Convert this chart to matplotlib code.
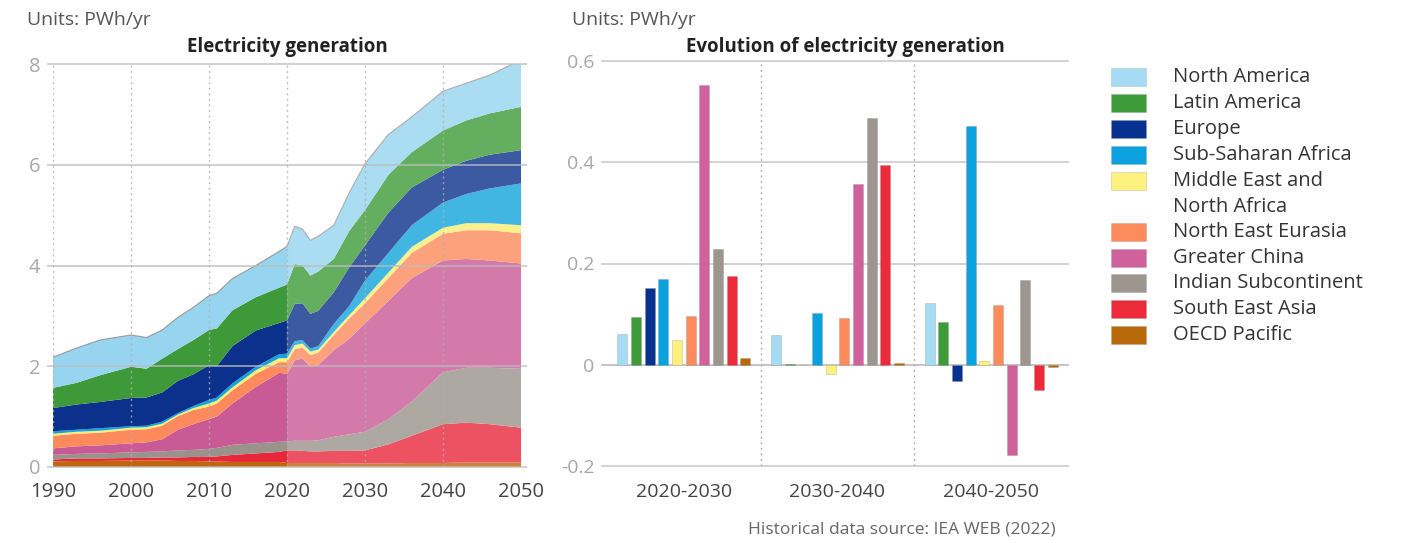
import matplotlib
matplotlib.use("Agg")
import matplotlib.pyplot as plt
from matplotlib.patches import Rectangle
import numpy as np

plt.rcParams['font.family'] = ['Open Sans', 'DejaVu Sans']
plt.rcParams['axes.unicode_minus'] = False

# ---------------- data ----------------
years = [1990, 1993, 1996, 2000, 2002, 2004, 2006, 2008, 2010, 2011, 2013, 2016, 2019,
         2020, 2021, 2022, 2023, 2024, 2026, 2028, 2030, 2033, 2036, 2040, 2043, 2046, 2050]

oecd_pacific = [.11, .12, .12, .13, .13, .13, .12, .12, .11, .11, .10, .10, .10,
                .08, .08, .08, .08, .08, .08, .07, .07, .07, .08, .08, .09, .09, .09]
south_east_asia = [.04, .05, .05, .05, .05, .06, .07, .08, .09, .10, .14, .17, .20,
                   .25, .25, .24, .23, .23, .24, .25, .26, .38, .54, .77, .79, .76, .69]
indian_sub = [.09, .09, .10, .11, .12, .12, .14, .14, .16, .17, .20, .20, .20,
              .18, .19, .20, .21, .22, .28, .33, .37, .50, .68, 1.03, 1.09, 1.12, 1.17]
greater_china = [.13, .15, .16, .18, .19, .24, .41, .51, .59, .62, .82, 1.12, 1.37,
                 1.34, 1.60, 1.63, 1.47, 1.49, 1.72, 1.90, 2.15, 2.35, 2.45, 2.22, 2.16, 2.13, 2.09]
ne_eurasia = [.25, .25, .25, .27, .26, .27, .27, .28, .25, .26, .26, .26, .21,
              .23, .22, .22, .23, .25, .30, .40, .40, .45, .50, .53, .57, .60, .60]
mena = [.04, .04, .04, .04, .04, .04, .03, .04, .06, .06, .06, .07, .08,
        .08, .08, .08, .07, .06, .06, .07, .10, .11, .12, .12, .14, .14, .16]
ss_africa = [.05, .04, .05, .03, .03, .04, .03, .04, .07, .06, .08, .07, .08,
             .09, .08, .07, .06, .07, .16, .18, .35, .39, .43, .50, .58, .69, .83]
europe = [.46, .50, .52, .56, .56, .58, .64, .63, .69, .62, .74, .72, .62,
          .66, .74, .73, .69, .70, .63, .77, .70, .80, .75, .65, .66, .67, .66]
latin_america = [.40, .43, .53, .62, .57, .67, .63, .68, .70, .75, .71, .66, .70,
                 .71, .79, .75, .76, .78, .66, .72, .70, .75, .70, .78, .80, .82, .86]
north_america = [.61, .69, .70, .63, .62, .57, .63, .65, .68, .70, .63, .63, .72,
                 .76, .75, .72, .70, .70, .67, .76, .92, .80, .70, .78, .74, .76, .93]

regions = ["North America", "Latin America", "Europe", "Sub-Saharan Africa",
           "Middle East and\nNorth Africa", "North East Eurasia", "Greater China",
           "Indian Subcontinent", "South East Asia", "OECD Pacific"]
periods = ["2020-2030", "2030-2040", "2040-2050"]
# evolution per region: [2020-2030, 2030-2040, 2040-2050]
evo_north_america = [0.060, 0.059, 0.121]
evo_latin_america = [0.095, 0.002, 0.085]
evo_europe = [0.151, 0.000, -0.033]
evo_ss_africa = [0.170, 0.103, 0.472]
evo_mena = [0.049, -0.018, 0.008]
evo_ne_eurasia = [0.096, 0.092, 0.118]
evo_greater_china = [0.552, 0.357, -0.179]
evo_indian_sub = [0.228, 0.488, 0.167]
evo_south_east_asia = [0.175, 0.395, -0.049]
evo_oecd_pacific = [0.014, 0.004, -0.005]

bar_colors = ["#a6dcf3", "#3d9b3a", "#07318f", "#0ba1de", "#fdf07c",
              "#fe8b5b", "#d0619d", "#9d968e", "#ec2a3a", "#b8690a"]
area_colors = ["#96d4ef", "#3e9a38", "#0b318c", "#14a4dd", "#fbee70",
               "#fd8a5d", "#c95a95", "#9a938b", "#e8283a", "#c0650b"]

# ---------------- figure ----------------
W, H = 1406, 543
fig = plt.figure(figsize=(W / 100, H / 100), dpi=100)


def fx(x):
    return x / W


def fy(y):
    return 1 - y / H


grid_c = "#cfcfcf"
tick_c = "#a8a8a8"
lab_c = "#444444"

# ---------- left: stacked area ----------
axL = fig.add_axes([fx(53), fy(467), fx(521) - fx(53), fy(64) - fy(467)])
stack_bottom_up = [oecd_pacific, south_east_asia, indian_sub, greater_china, ne_eurasia,
                   mena, ss_africa, europe, latin_america, north_america]
cols_bottom_up = area_colors[::-1]
axL.stackplot(years, *stack_bottom_up, colors=cols_bottom_up, linewidth=0, zorder=2)
total = np.sum(np.array(stack_bottom_up), axis=0)
axL.plot(years, total, color="#9a9a9a", lw=0.8, zorder=3)
axL.axvspan(2020, 2050, color="white", alpha=0.2, lw=0, zorder=4)
axL.set_xlim(1990, 2050)
axL.set_ylim(0, 8)
for v in [0, 2, 4, 6, 8]:
    axL.axhline(v, color="#bdbdbd", lw=1.4, alpha=0.7, zorder=5, xmin=-0.01, xmax=1.01, clip_on=False)
for yr in [1990, 2000, 2010, 2020, 2030, 2040]:
    axL.axvline(yr, color="#b0b0b0", lw=1.0, ls=(0, (1.5, 2.5)), alpha=0.8, zorder=5)
for s in axL.spines.values():
    s.set_visible(False)
axL.set_xticks([1990, 2000, 2010, 2020, 2030, 2040, 2050])
axL.set_yticks([0, 2, 4, 6, 8])
axL.tick_params(axis="x", length=0, pad=11, labelsize=14.5, labelcolor=lab_c)
axL.tick_params(axis="y", length=0, pad=9, labelsize=14.5, labelcolor=tick_c)
axL.set_facecolor("white")

fig.text(fx(27), fy(20), "Units: PWh/yr", fontsize=14, color="#555555", va="center", ha="left")
fig.text(fx(287), fy(47), "Electricity generation", fontsize=13.5, color="#222222",
         fontweight="bold", va="center", ha="center")

# ---------- right: grouped bars ----------
axR = fig.add_axes([fx(607), fy(466), fx(1068) - fx(607), fy(61) - fy(466)])
evo_series = [evo_north_america, evo_latin_america, evo_europe, evo_ss_africa, evo_mena,
              evo_ne_eurasia, evo_greater_china, evo_indian_sub, evo_south_east_asia,
              evo_oecd_pacific]
x = np.arange(len(periods))
pitch = 0.089
bw = 0.066
for v in [-0.2, 0, 0.2, 0.4, 0.6]:
    axR.axhline(v, color=grid_c if v != 0 else "#c0c0c0", lw=1.3, zorder=0,
                xmin=-0.01, xmax=1.0, clip_on=False)
for sep in [0.5, 1.5]:
    axR.axvline(sep, color="#b0b0b0", lw=1.0, ls=(0, (1.5, 2.5)), zorder=0)
for i, (vals, c) in enumerate(zip(evo_series, bar_colors)):
    axR.bar(x + (i - 4.5) * pitch, vals, width=bw, color=c,
            edgecolor=(0.55, 0.55, 0.55, 0.35), linewidth=0.6, zorder=2)
axR.set_xlim(-0.5, 2.5)
axR.set_ylim(-0.2, 0.6)
for s in axR.spines.values():
    s.set_visible(False)
axR.set_xticks(x)
axR.set_xticklabels(periods)
axR.set_yticks([-0.2, 0, 0.2, 0.4, 0.6])
axR.set_yticklabels(["-0.2", "0", "0.2", "0.4", "0.6"])
axR.tick_params(axis="x", length=0, pad=12, labelsize=14, labelcolor=lab_c)
axR.tick_params(axis="y", length=0, pad=9, labelsize=14, labelcolor=tick_c)

fig.text(fx(572), fy(20), "Units: PWh/yr", fontsize=14, color="#555555", va="center", ha="left")
fig.text(fx(845), fy(47), "Evolution of electricity generation", fontsize=13.5,
         color="#222222", fontweight="bold", va="center", ha="center")
fig.text(fx(1056), fy(530), "Historical data source: IEA WEB (2022)", fontsize=12.5,
         color="#666666", va="center", ha="right")

# ---------- legend ----------
leg_y = [77, 103, 129, 155, 181, 232, 258, 283, 309, 335]
for name, c, yc in zip(regions, bar_colors, leg_y):
    fig.add_artist(Rectangle((fx(1111), fy(yc + 9)), fx(35), 18 / H, transform=fig.transFigure,
                             facecolor=c, edgecolor=(0.6, 0.6, 0.6, 0.35), linewidth=0.6))
    if "\n" in name:
        l1, l2 = name.split("\n")
        fig.text(fx(1173), fy(yc), l1, fontsize=14.5, color="#333333", va="center", ha="left")
        fig.text(fx(1173), fy(yc + 26), l2, fontsize=14.5, color="#333333", va="center", ha="left")
    else:
        fig.text(fx(1173), fy(yc), name, fontsize=14.5, color="#333333", va="center", ha="left")

fig.savefig("out.png", dpi=100)
